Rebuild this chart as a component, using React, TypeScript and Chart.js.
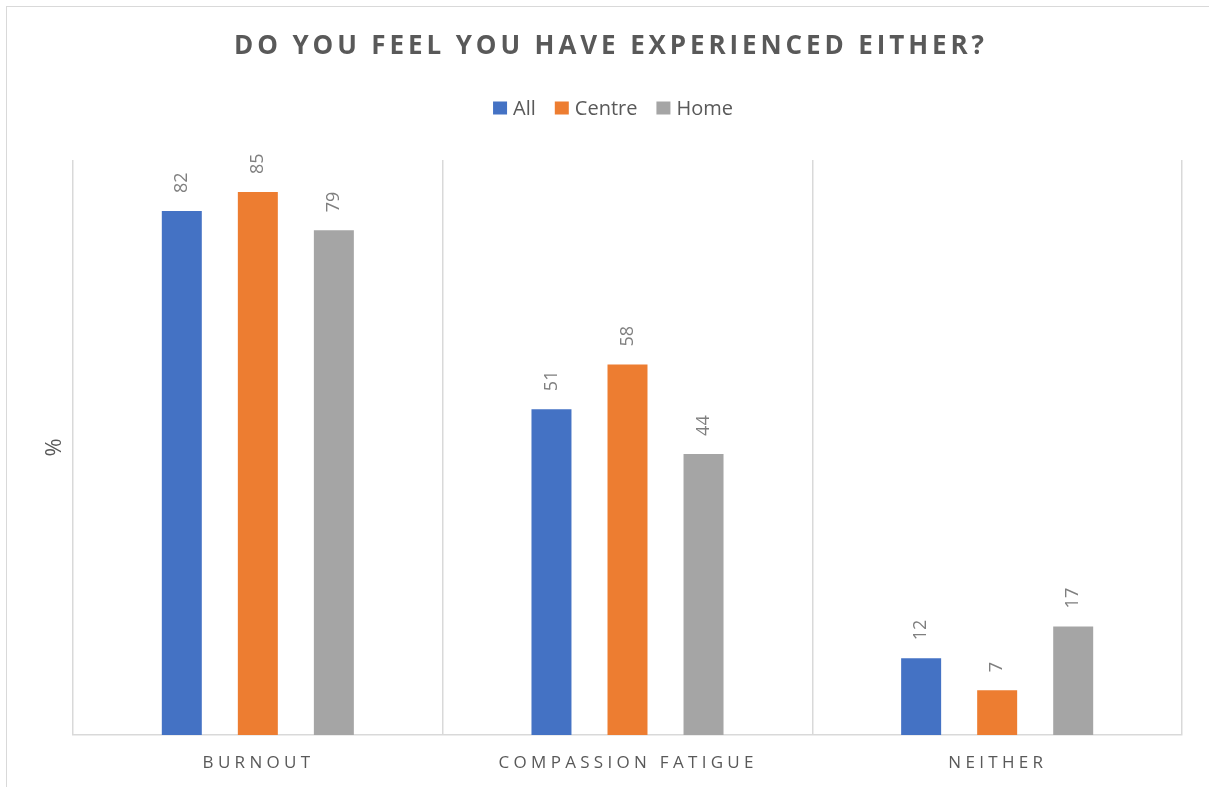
import React, { useEffect, useRef } from "react";
import { Chart, registerables } from "chart.js";

Chart.register(...registerables);

const categories = ["BURNOUT", "COMPASSION FATIGUE", "NEITHER"];
const seriesNames = ["All", "Centre", "Home"];
const allValues = [82, 51, 12];
const centreValues = [85, 58, 7];
const homeValues = [79, 44, 17];
const seriesColors = ["#4472C4", "#ED7D31", "#A5A5A5"];
const titleText = "DO YOU FEEL YOU HAVE EXPERIENCED EITHER?";
const yAxisTitle = "%";
const yMin = 0;
const yMax = 90;

const FONT = "'Open Sans', sans-serif";
const TEXT_COLOR = "#595959";
const LABEL_COLOR = "#7F7F7F";
const GRID_COLOR = "#D9D9D9";

function drawSpaced(ctx: CanvasRenderingContext2D, text: string, cx: number, y: number, spacing: number) {
  (ctx as any).letterSpacing = spacing + "px";
  const w = ctx.measureText(text).width - spacing;
  ctx.textAlign = "left";
  ctx.fillText(text, cx - w / 2, y);
  (ctx as any).letterSpacing = "0px";
}

const textPlugin = {
  id: "customText",
  afterDatasetsDraw(chart: any) {
    const ctx: CanvasRenderingContext2D = chart.ctx;
    ctx.save();
    ctx.fillStyle = LABEL_COLOR;
    ctx.font = `18px ${FONT}`;
    ctx.textBaseline = "middle";
    ctx.textAlign = "left";
    chart.data.datasets.forEach((ds: any, di: number) => {
      const meta = chart.getDatasetMeta(di);
      meta.data.forEach((el: any, i: number) => {
        ctx.save();
        ctx.translate(el.x, el.y - 18);
        ctx.rotate(-Math.PI / 2);
        ctx.fillText(String(ds.data[i]), 0, 0);
        ctx.restore();
      });
    });
    ctx.restore();
  },
  afterDraw(chart: any) {
    const ctx: CanvasRenderingContext2D = chart.ctx;
    const area = chart.chartArea;
    ctx.save();
    // Title
    ctx.fillStyle = TEXT_COLOR;
    ctx.textBaseline = "middle";
    ctx.font = `bold 26px ${FONT}`;
    drawSpaced(ctx, titleText, 609, 47, 3.9);

    // Legend
    ctx.font = `20px ${FONT}`;
    const box = 14;
    const gapText = 6;
    const gapItem = 19;
    const widths = chart.data.datasets.map((ds: any) => ctx.measureText(ds.label).width);
    let total = 0;
    widths.forEach((w: number, i: number) => {
      total += box + gapText + w + (i > 0 ? gapItem : 0);
    });
    let x = 613 - total / 2;
    const ly = 108.5;
    chart.data.datasets.forEach((ds: any, i: number) => {
      ctx.fillStyle = ds.backgroundColor;
      ctx.fillRect(x, ly - 7, box, 13);
      x += box + gapText;
      ctx.fillStyle = TEXT_COLOR;
      ctx.textAlign = "left";
      ctx.fillText(ds.label, x, ly + 1);
      x += widths[i] + gapItem;
    });

    // Y axis title
    ctx.save();
    ctx.font = `22px ${FONT}`;
    ctx.translate(55, (area.top + area.bottom) / 2);
    ctx.rotate(-Math.PI / 2);
    ctx.textAlign = "center";
    ctx.fillStyle = TEXT_COLOR;
    ctx.fillText(yAxisTitle, 0, 0);
    ctx.restore();

    // X category labels
    ctx.font = `17px ${FONT}`;
    ctx.fillStyle = TEXT_COLOR;
    const xs = chart.scales.x;
    chart.data.labels.forEach((lab: string, i: number) => {
      drawSpaced(ctx, lab, xs.getPixelForValue(i) - 1.5, 763, 4.3);
    });
    ctx.restore();
  },
};

export default function App() {
  const ref = useRef<HTMLCanvasElement | null>(null);
  useEffect(() => {
    document.body.style.margin = "0";
    document.body.style.overflow = "hidden";
    const canvas = ref.current;
    if (!canvas) return;
    const values = [allValues, centreValues, homeValues];
    const chart = new Chart(canvas, {
      type: "bar",
      data: {
        labels: categories,
        datasets: seriesNames.map((name, i) => ({
          label: name,
          data: values[i],
          backgroundColor: seriesColors[i],
          borderWidth: 0,
          categoryPercentage: 0.617,
          barPercentage: 0.526,
        })),
      },
      options: {
        animation: false,
        responsive: false,
        layout: { padding: { left: 73, right: 27, top: 160, bottom: 52 } },
        plugins: {
          legend: { display: false },
          title: { display: false },
          tooltip: { enabled: false },
        },
        scales: {
          x: {
            offset: true,
            grid: { color: GRID_COLOR, lineWidth: 1.5, drawTicks: false, offset: true },
            border: { color: GRID_COLOR, width: 1.5 },
            ticks: { display: false },
            afterFit: (s: any) => {
              s.height = 0;
            },
          },
          y: { display: false, min: yMin, max: yMax },
        },
      } as any,
      plugins: [textPlugin],
    });
    return () => chart.destroy();
  }, []);

  return (
    <div style={{ position: "relative", width: 1209, height: 787, overflow: "hidden", background: "#fff" }}>
      <div
        style={{
          position: "absolute",
          left: 6,
          top: 6,
          width: 1300,
          height: 900,
          border: "1.5px solid #D9D9D9",
          boxSizing: "border-box",
        }}
      />
      <canvas ref={ref} width={1209} height={787} style={{ position: "absolute", left: 0, top: 0, width: 1209, height: 787 }} />
    </div>
  );
}
